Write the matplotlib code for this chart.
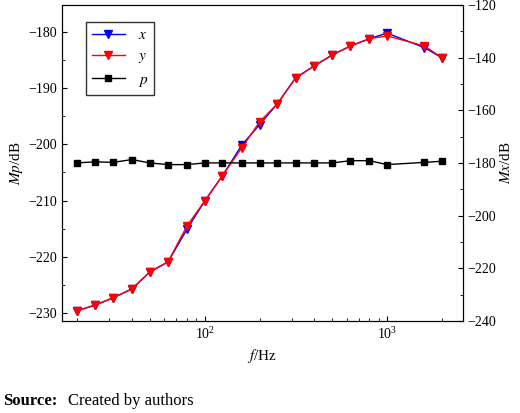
import matplotlib
matplotlib.use("Agg")
import matplotlib.pyplot as plt
from matplotlib.ticker import AutoMinorLocator

plt.rcParams['font.family'] = ['Liberation Serif', 'DejaVu Serif']
plt.rcParams['mathtext.fontset'] = 'stix'

freq = [20, 25, 31.5, 40, 50, 63, 80, 100, 125, 160, 200, 250, 315, 400, 500, 630, 800, 1000, 1600, 2000]
y_vals = [-229.6, -228.6, -227.3, -225.7, -222.7, -220.9, -214.5, -210.1, -205.6, -200.6, -196.0, -192.8,
          -188.2, -186.0, -184.1, -182.5, -181.2, -180.7, -182.5, -184.6]
x_vals = [-229.6, -228.6, -227.3, -225.7, -222.7, -220.9, -215.1, -210.1, -205.6, -200.1, -196.5, -192.8,
          -188.2, -186.0, -184.1, -182.5, -181.2, -180.2, -182.8, -184.6]
p_vals = [-203.3, -203.1, -203.2, -202.7, -203.3, -203.6, -203.6, -203.3, -203.3, -203.3, -203.3, -203.3,
          -203.3, -203.3, -203.3, -202.9, -202.9, -203.6, -203.2, -203.0]

fig = plt.figure(figsize=(5.2, 4.13), dpi=100)
ax = fig.add_axes([0.119, 0.223, 0.771, 0.765])
ax.plot(freq, x_vals, '-v', color='blue', ms=6, lw=1, label='$x$')
ax.plot(freq, y_vals, '-v', color='red', ms=6, lw=1, label='$y$')
ax.plot(freq, p_vals, '-s', color='black', ms=4.5, lw=1, label='$p$')
ax.set_xscale('log')
ax.set_xlim(16.5, 2600)
ax.set_ylim(-231.4, -175.2)
ax.set_yticks([-230, -220, -210, -200, -190, -180])
ax.yaxis.set_minor_locator(AutoMinorLocator(2))
ax.tick_params(which='both', direction='in', labelsize=10)
ax.set_xlabel('$f$/Hz', fontsize=11)
ax.set_ylabel('$Mp$/dB', fontsize=11, labelpad=2)
ax.legend(loc='upper left', bbox_to_anchor=(0.04, 0.97), fontsize=11, frameon=True,
          fancybox=False, edgecolor='black', handlelength=2.2)

ax2 = ax.twinx()
ax2.set_ylim(-240, -120)
ax2.set_yticks([-240, -220, -200, -180, -160, -140, -120])
ax2.yaxis.set_minor_locator(AutoMinorLocator(2))
ax2.tick_params(which='both', direction='in', labelsize=10)
ax2.set_ylabel('$Mx$/dB', fontsize=11, labelpad=2)

fig.text(0.005, 0.02, 'Source:', fontsize=12, fontweight='bold')
fig.text(0.13, 0.02, 'Created by authors', fontsize=12)
fig.savefig('out.png', dpi=100)
